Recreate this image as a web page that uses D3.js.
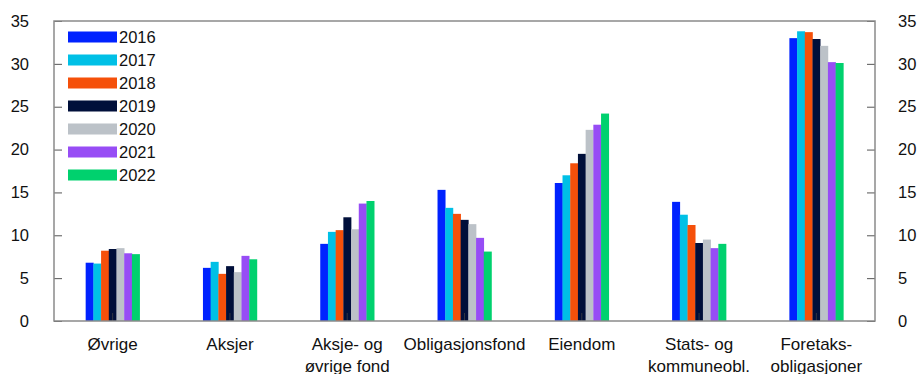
<!DOCTYPE html>
<html>
<head>
<meta charset="utf-8">
<script src="https://cdn.jsdelivr.net/npm/d3@7"></script>
<style>
  body { margin: 0; background: #fff; }
  text { font-family: "Liberation Sans", Arial, sans-serif; fill: #111; }
</style>
</head>
<body>
<div id="chart"></div>
<script>
const width = 917,
    height = 374
const margin = { top: 21, right: 42, bottom: 53, left: 54 }

// data
const categories = ['Øvrige', 'Aksjer', 'Aksje- og\nøvrige fond', 'Obligasjonsfond', 'Eiendom', 'Stats- og\nkommuneobl.', 'Foretaks-\nobligasjoner']
const years = ['2016', '2017', '2018', '2019', '2020', '2021', '2022']
const colors = ['#0022ff', '#00c0e6', '#f5500a', '#000f3a', '#bcc2c8', '#974df5', '#00d16e']
const v2016 = [6.8, 6.2, 9.0, 15.3, 16.1, 13.9, 33.0]
const v2017 = [6.7, 6.9, 10.4, 13.2, 17.0, 12.4, 33.8]
const v2018 = [8.2, 5.5, 10.6, 12.5, 18.4, 11.2, 33.7]
const v2019 = [8.4, 6.4, 12.1, 11.8, 19.5, 9.1, 32.9]
const v2020 = [8.5, 5.7, 10.7, 11.3, 22.3, 9.5, 32.1]
const v2021 = [7.9, 7.6, 13.7, 9.7, 22.9, 8.5, 30.2]
const v2022 = [7.8, 7.2, 14.0, 8.1, 24.2, 9.0, 30.1]
const yTicks = [0, 5, 10, 15, 20, 25, 30, 35]

const series = [v2016, v2017, v2018, v2019, v2020, v2021, v2022]
const table = categories.map(function (c, i) {
    return { cat: c, values: years.map(function (y, j) { return { year: y, value: series[j][i] } }) }
})

const svg = d3.select('#chart')
    .append('svg')
    .attr('width', width)
    .attr('height', height)

const x0 = d3.scaleBand()
    .domain(categories)
    .range([margin.left, width - margin.right])
    .paddingInner(0.54)
    .paddingOuter(0.27)

const x1 = d3.scaleBand()
    .domain(years)
    .range([0, x0.bandwidth()])
    .padding(0)

const y = d3.scaleLinear()
    .domain([0, 35])
    .range([height - margin.bottom, margin.top])

const color = d3.scaleOrdinal(years, colors)

// bars
svg.append('g')
    .selectAll('g')
    .data(table)
    .join('g')
    .attr('transform', function (d) { return 'translate(' + x0(d.cat) + ',0)' })
    .selectAll('rect')
    .data(function (d) { return d.values })
    .join('rect')
    .attr('x', function (d) { return x1(d.year) })
    .attr('width', x1.bandwidth() + 0.3)
    .attr('y', function (d) { return y(d.value) })
    .attr('height', function (d) { return y(0) - y(d.value) })
    .attr('fill', function (d) { return color(d.year) })

const frameColor = '#8a8a8a'

// left axis
const left = svg.append('g')
    .attr('transform', 'translate(' + margin.left + ',0)')
    .call(d3.axisRight(y).tickValues(yTicks).tickSize(8).tickFormat(''))
left.select('.domain').remove()
left.selectAll('line').attr('stroke', '#555')
left.selectAll('.lbl')
    .data(yTicks)
    .join('text')
    .attr('class', 'lbl')
    .attr('x', -25)
    .attr('y', function (d) { return y(d) })
    .attr('dy', '0.35em')
    .attr('text-anchor', 'end')
    .attr('font-size', 16.5)
    .text(function (d) { return d })

// right axis
const right = svg.append('g')
    .attr('transform', 'translate(' + (width - margin.right) + ',0)')
    .call(d3.axisLeft(y).tickValues(yTicks).tickSize(8).tickFormat(''))
right.select('.domain').remove()
right.selectAll('line').attr('stroke', '#555')
right.selectAll('.lbl')
    .data(yTicks)
    .join('text')
    .attr('class', 'lbl')
    .attr('x', 23)
    .attr('y', function (d) { return y(d) })
    .attr('dy', '0.35em')
    .attr('text-anchor', 'start')
    .attr('font-size', 16.5)
    .text(function (d) { return d })

// bottom axis ticks (inward)
const bottom = svg.append('g')
    .attr('transform', 'translate(0,' + y(0) + ')')
    .call(d3.axisTop(x0).tickSize(8).tickFormat(''))
bottom.select('.domain').remove()
bottom.selectAll('line').attr('stroke', '#444').attr('opacity', 0.7)

// category labels
bottom.selectAll('.cat')
    .data(categories)
    .join('text')
    .attr('class', 'cat')
    .attr('text-anchor', 'middle')
    .attr('font-size', 17)
    .attr('transform', function (d) { return 'translate(' + (x0(d) + x0.bandwidth() / 2) + ',29)' })
    .each(function (d) {
        const t = d3.select(this)
        d.split('\n').forEach(function (line, i) {
            t.append('tspan').attr('x', 0).attr('dy', i === 0 ? 0 : 22).text(line)
        })
    })

// frame
svg.append('rect')
    .attr('x', margin.left)
    .attr('y', margin.top)
    .attr('width', width - margin.left - margin.right)
    .attr('height', height - margin.top - margin.bottom)
    .attr('fill', 'none')
    .attr('stroke', frameColor)
    .attr('stroke-width', 1.5)

// legend
const legend = svg.append('g')
    .selectAll('g')
    .data(years)
    .join('g')
    .attr('transform', function (d, i) { return 'translate(68,' + (37 + i * 23) + ')' })
legend.append('rect')
    .attr('x', 0)
    .attr('y', -5.5)
    .attr('width', 49)
    .attr('height', 11)
    .attr('fill', function (d) { return color(d) })
legend.append('text')
    .attr('x', 51)
    .attr('dy', '0.36em')
    .attr('font-size', 16.5)
    .text(function (d) { return d })
</script>
</body>
</html>
